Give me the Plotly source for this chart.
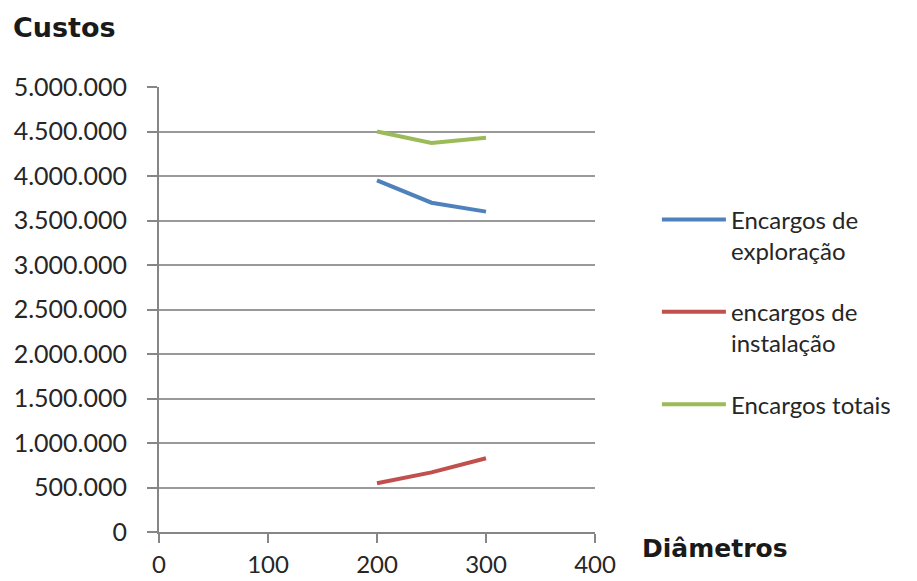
import plotly.graph_objects as go

diametros = [200, 250, 300]
encargos_exploracao = [3950000, 3700000, 3600000]
encargos_instalacao = [547000, 670000, 828000]
encargos_totais = [4500000, 4370000, 4430000]

series_names = ["Encargos de<br>exploração", "encargos de<br>instalação", "Encargos totais"]
series_colors = ["#4F81BD", "#C0504D", "#9BBB59"]
series_values = [encargos_exploracao, encargos_instalacao, encargos_totais]

fig = go.Figure()
for i, (name, color, vals) in enumerate(zip(series_names, series_colors, series_values)):
    fig.add_trace(go.Scatter(x=diametros, y=vals, mode="lines", name=name,
                             legendgroup=f"g{i}",
                             line=dict(color=color, width=4)))

y_tick_font = dict(family="Lato", size=25, color="#262626")
x_tick_font = dict(family="Lato", size=24, color="#262626")
fig.update_layout(
    width=917, height=581,
    margin=dict(l=159, r=322, t=87, b=49, autoexpand=False),
    paper_bgcolor="white", plot_bgcolor="white",
    separators=",.",
    showlegend=True,
    legend=dict(x=1.142, y=0.752, xanchor="left", yanchor="top",
                font=dict(family="Lato", size=24, color="#262626"),
                itemwidth=64, tracegroupgap=27, valign="top",
                bgcolor="rgba(0,0,0,0)"),
    xaxis=dict(range=[0, 400], dtick=100, tick0=0, showgrid=False,
               showline=True, linecolor="#868686", linewidth=2,
               ticks="outside", ticklen=9, tickcolor="#868686", tickwidth=2,
               tickfont=x_tick_font, ticklabelstandoff=1, zeroline=False,
               automargin=False),
    yaxis=dict(range=[0, 5000000], dtick=500000, tick0=0, tickformat=",d",
               showgrid=True, gridcolor="#999999", gridwidth=2,
               showline=True, linecolor="#868686", linewidth=2,
               ticks="outside", ticklen=10, tickcolor="#868686", tickwidth=2,
               tickfont=y_tick_font, ticklabelstandoff=15, zeroline=False,
               automargin=False),
    annotations=[
        dict(text="<b>Custos</b>", xref="paper", yref="paper", x=-0.339, y=1.133,
             xanchor="left", yanchor="middle", showarrow=False,
             font=dict(family="DejaVu Sans", size=27, color="#1a1a1a")),
        dict(text="<b>Diâmetros</b>", xref="paper", yref="paper", x=1.103, y=-0.036,
             xanchor="left", yanchor="middle", showarrow=False,
             font=dict(family="DejaVu Sans", size=25, color="#1a1a1a")),
    ],
)

fig.write_html("out.html", config={"displayModeBar": False},
               post_script="document.body.style.margin='0';")
